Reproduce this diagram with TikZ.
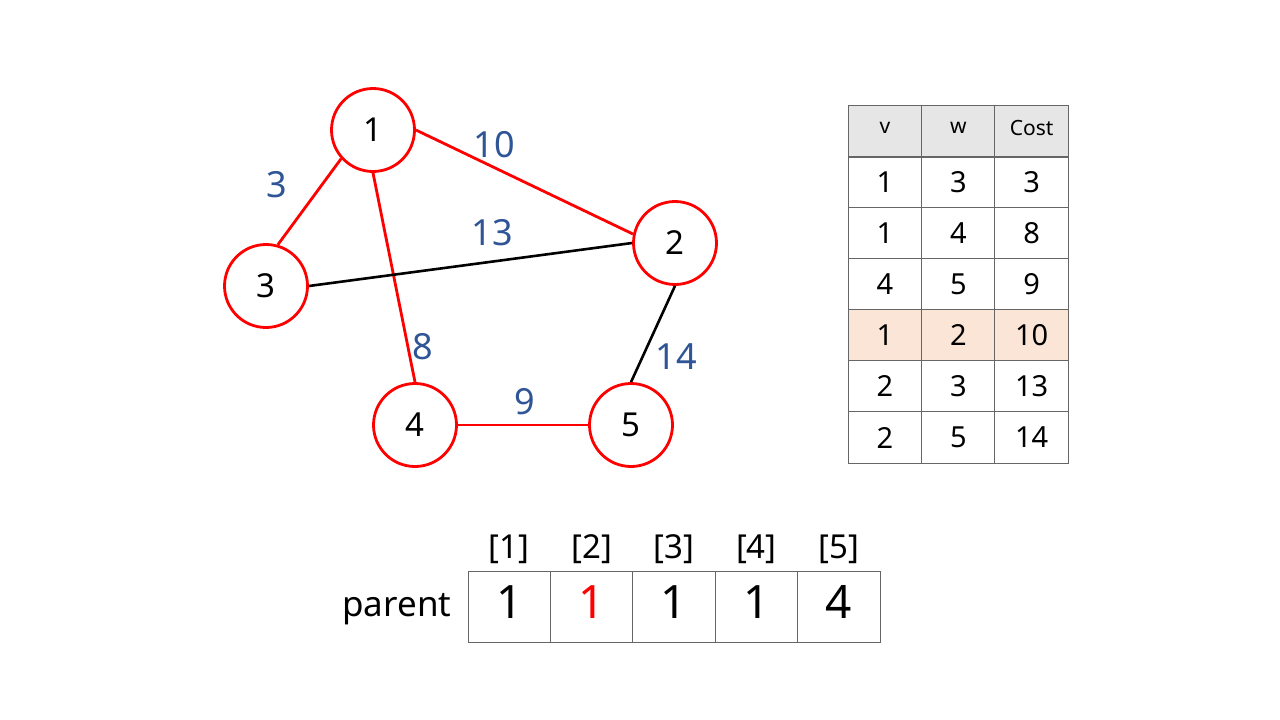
\documentclass[tikz,border=0pt]{standalone}
\usepackage{fontspec}
\setmainfont{Noto Sans}
\usepackage{xcolor}
\usetikzlibrary{positioning}
\definecolor{wblue}{RGB}{47,85,151}
\definecolor{headgray}{RGB}{231,230,230}
\definecolor{hlrow}{RGB}{251,229,214}

\begin{document}
\begin{tikzpicture}[x=1pt, y=-1pt, node distance=16pt]
 % We define the styles for the vertices, the edges and the two tables
 \tikzset{
vertex/.style = {draw=red, circle, line width=2.8pt, minimum size=83pt, inner sep=0pt, font=\fontsize{33}{40}\selectfont},
weight/.style = {text=wblue, inner sep=0pt, font=\fontsize{36}{43}\selectfont},
tree/.style = {draw=red, line width=2.8pt},
other/.style = {draw=black, line width=2.6pt},
tcell/.style = {draw=black!60, line width=1pt, minimum width=73.3pt, minimum height=51.15pt, inner sep=0pt, font=\fontsize{29}{35}\selectfont},
thead/.style = {tcell, fill=headgray, minimum height=52pt, text depth=6pt, font=\fontsize{21}{25}\selectfont},
pcell/.style = {draw=black!60, line width=1pt, minimum width=82.4pt, minimum height=71pt, inner sep=0pt, text depth=9pt, font=\fontsize{46}{55}\selectfont},
idx/.style = {inner sep=0pt, font=\fontsize{33}{40}\selectfont},
}
 \useasboundingbox (0,0) rectangle (1280,720);

 % Vertices of the graph
 \node [vertex] (n1) at (373,130) {1};
 \node [vertex] (n2) at (675,243) {2};
 \node [vertex] (n3) at (266,286) {3};
 \node [vertex] (n4) at (415,425) {4};
 \node [vertex] (n5) at (631,425) {5};

 % Edges: red ones are in the spanning tree
 \draw [tree] (n1.222) -- (n3.74);
 \draw [tree] (n1.east) -- (n2.168);
 \draw [tree] (n1.south) -- (n4.north);
 \draw [tree] (n4.east) -- (n5.west);
 \draw [other] (n3.east) -- (n2.west);
 \draw [other] (n2.south) -- (n5.north);

 % Edge weights
 \node [weight] (w13) at (277,185) {3};
 \node [weight] (w12) at (494,145) {10};
 \node [weight] (w32) at (492,233) {13};
 \node [weight] (w14) at (423,347) {8};
 \node [weight] (w45) at (525,402) {9};
 \node [weight] (w25) at (676,357) {14};

 % Edge list sorted by cost
 \node [thead] (hv) at (885,131) {v};
 \node [thead] (hw) at (958.3,131) {w};
 \node [thead] (hc) at (1031.6,131) {Cost};
 \foreach \v/\w/\c [count=\i] in {1/3/3, 1/4/8, 4/5/9, 1/2/10, 2/3/13, 2/5/14} {
  \ifnum\i=4 \def\rowfill{hlrow}\else\def\rowfill{none}\fi
  \node [tcell, fill=\rowfill] (v\i) at (885,{130.6+51.15*\i}) {\v};
  \node [tcell, fill=\rowfill] (w\i) at (958.3,{130.6+51.15*\i}) {\w};
  \node [tcell, fill=\rowfill] (c\i) at (1031.6,{130.6+51.15*\i}) {\c};
 }

 % Parent array
 \foreach \p/\col [count=\k] in {1/black, 1/red, 1/black, 1/black, 4/black} {
  \node [pcell, text=\col] (p\k) at ({509.2+82.4*(\k-1)},606.5) {\p};
  \node [idx, above=7pt of p\k] (i\k) {[\k]};
 }
 \node [left=16pt of p1, yshift=-3pt, inner sep=0pt, font=\fontsize{35}{42}\selectfont] (parent) {parent};

\end{tikzpicture}
\end{document}
